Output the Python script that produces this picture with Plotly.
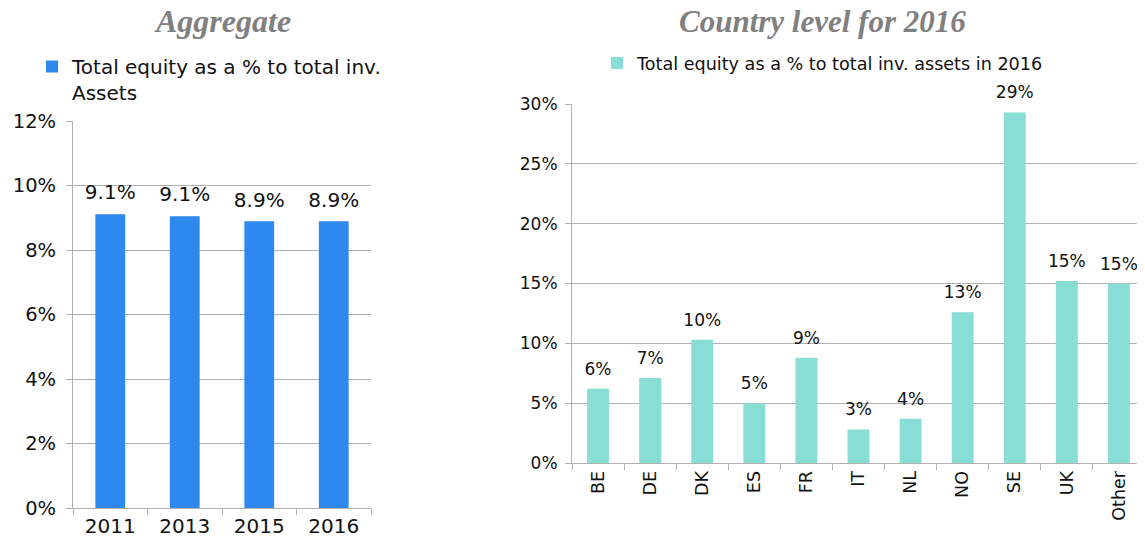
import plotly.graph_objects as go

years = ["2011", "2013", "2015", "2016"]
agg_values = [9.11, 9.05, 8.89, 8.89]
agg_labels = ["9.1%", "9.1%", "8.9%", "8.9%"]

countries = ["BE", "DE", "DK", "ES", "FR", "IT", "NL", "NO", "SE", "UK", "Other"]
country_values = [6.2, 7.1, 10.3, 5.0, 8.8, 2.8, 3.7, 12.6, 29.3, 15.2, 15.0]
country_labels = ["6%", "7%", "10%", "5%", "9%", "3%", "4%", "13%", "29%", "15%", "15%"]

left_ticks = [0, 2, 4, 6, 8, 10, 12]
right_ticks = [0, 5, 10, 15, 20, 25, 30]

# page body has an 8px margin: the figure is drawn from (8, 8)
OFF = 8
W, H = 1145 - OFF, 545 - OFF
FONT = "DejaVu Sans"
GRID = "#b0b0b0"
TXT = "#111111"


def px_x(p):
    return (p - OFF) / W


def px_y(p):
    return (H - (p - OFF)) / H


fig = go.Figure()

fig.add_trace(go.Bar(
    x=years, y=agg_values,
    marker=dict(color="#2e88ee", line=dict(width=0)),
    width=0.4,
    name="Total equity as a % to total inv.<br>Assets",
    xaxis="x", yaxis="y", legend="legend", showlegend=True,
))
fig.add_trace(go.Scatter(
    x=years, y=agg_values, text=agg_labels, mode="markers+text",
    textposition="top center", cliponaxis=False,
    marker=dict(size=14, color="rgba(0,0,0,0)"),
    textfont=dict(family=FONT, size=20, color=TXT),
    xaxis="x", yaxis="y", showlegend=False, hoverinfo="skip",
))
fig.add_trace(go.Bar(
    x=countries, y=country_values,
    marker=dict(color="#88ddd4", line=dict(width=0)),
    width=0.42,
    name="Total equity as a % to total inv. assets in 2016",
    xaxis="x2", yaxis="y2", legend="legend2", showlegend=True,
))
fig.add_trace(go.Scatter(
    x=countries, y=country_values, text=country_labels, mode="markers+text",
    textposition="top center", cliponaxis=False,
    marker=dict(size=14, color="rgba(0,0,0,0)"),
    textfont=dict(family=FONT, size=17, color=TXT),
    xaxis="x2", yaxis="y2", showlegend=False, hoverinfo="skip",
))

axis_common = dict(showline=True, linecolor=GRID, linewidth=1, automargin=False)

fig.update_layout(
    width=W, height=H,
    margin=dict(l=0, r=0, t=0, b=0, autoexpand=False),
    paper_bgcolor="white", plot_bgcolor="white",
    font=dict(family=FONT, color=TXT),
    showlegend=True,
    xaxis=dict(domain=[px_x(73), px_x(371)], anchor="y", **axis_common,
               range=[-0.5, len(years) - 0.5],
               ticks="outside", tickson="boundaries", ticklen=6, tickcolor=GRID,
               tickfont=dict(size=20, family=FONT, color=TXT)),
    yaxis=dict(domain=[px_y(508), px_y(121)], anchor="x", range=[0, 12],
               tickvals=left_ticks, ticktext=[f"{v}%" for v in left_ticks],
               **axis_common, showgrid=True, gridcolor=GRID, gridwidth=1,
               ticks="outside", ticklen=6, tickcolor=GRID, ticklabelstandoff=6,
               tickfont=dict(size=19.5, family=FONT, color=TXT), zeroline=False),
    xaxis2=dict(domain=[px_x(572), 1.0], anchor="y2", **axis_common,
                range=[-0.5, len(countries) - 0.5],
                ticks="outside", tickson="boundaries", ticklen=6, tickcolor=GRID,
                tickangle=-90,
                tickfont=dict(size=17.5, family=FONT, color=TXT)),
    yaxis2=dict(domain=[px_y(463), px_y(104)], anchor="x2", range=[0, 30],
                tickvals=right_ticks, ticktext=[f"{v}%" for v in right_ticks],
                **axis_common, showgrid=True, gridcolor=GRID, gridwidth=1,
                ticks="outside", ticklen=6, tickcolor=GRID, ticklabelstandoff=4,
                tickfont=dict(size=17, family=FONT, color=TXT), zeroline=False),
    legend=dict(x=px_x(32), y=px_y(47), xanchor="left", yanchor="top",
                font=dict(size=20, family=FONT, color=TXT), valign="top",
                tracegroupgap=0, bgcolor="rgba(0,0,0,0)"),
    legend2=dict(x=px_x(597), y=px_y(45), xanchor="left", yanchor="top",
                 font=dict(size=17.6, family=FONT, color=TXT),
                 bgcolor="rgba(0,0,0,0)"),
    annotations=[
        dict(text="<b><i>Aggregate</i></b>", x=px_x(222), y=px_y(21),
             xref="paper", yref="paper", xanchor="center", yanchor="middle",
             showarrow=False,
             font=dict(family="Liberation Serif", size=32, color="#808080")),
        dict(text="<b><i>Country level for 2016</i></b>", x=px_x(822), y=px_y(21),
             xref="paper", yref="paper", xanchor="center", yanchor="middle",
             showarrow=False,
             font=dict(family="Liberation Serif", size=31, color="#808080")),
    ],
)

fig.write_html("out.html")
